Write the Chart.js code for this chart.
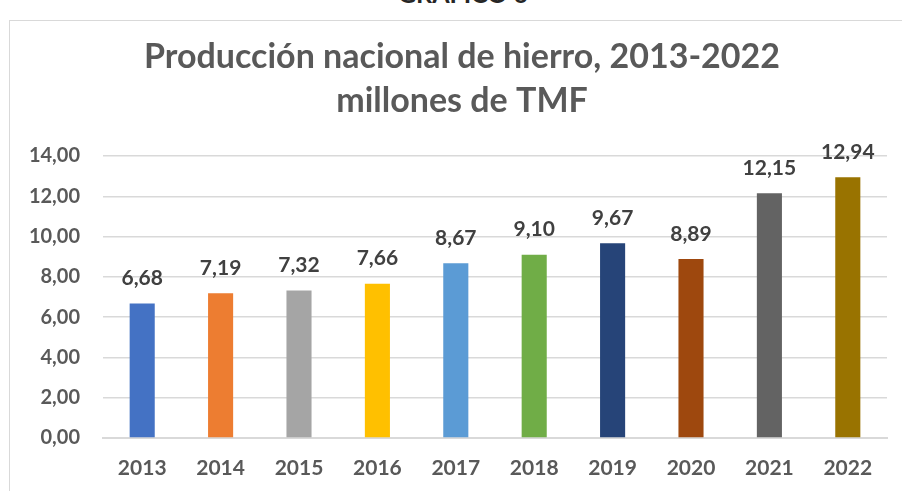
<!DOCTYPE html>
<html><head><meta charset="utf-8">
<script src="https://cdn.jsdelivr.net/npm/chart.js@4/dist/chart.umd.min.js"></script>
<style>
html,body{margin:0;padding:0;background:#fff;overflow:hidden;}
#wrap{position:relative;width:902px;height:491px;}
#frame{position:absolute;left:9px;top:20px;width:900px;height:480px;border:1.5px solid #d9d9d9;box-sizing:border-box;}
#sup{position:absolute;left:12px;width:902px;top:-19px;text-align:center;font:bold 25px Lato,"Liberation Sans",sans-serif;color:#262626;line-height:25px;}
canvas{position:absolute;left:0;top:0;}
</style></head><body>
<div id="wrap">
<div id="sup">GRÁFICO 6</div>
<div id="frame"></div>
<canvas id="c" width="902" height="491"></canvas>
</div>
<script>
const years = ["2013","2014","2015","2016","2017","2018","2019","2020","2021","2022"];
const production = [6.68, 7.19, 7.32, 7.66, 8.67, 9.10, 9.67, 8.89, 12.15, 12.94];
const barColors = ["#4472C4","#ED7D31","#A5A5A5","#FFC000","#5B9BD5","#70AD47","#264478","#9E480E","#636363","#997300"];
const titleLines = ["Producción nacional de hierro, 2013-2022","millones de TMF"];

const fmt = v => v.toFixed(2).replace('.', ',');
const FONT = 'Lato, "Liberation Sans", sans-serif';

const labelPlugin = {
  id: 'valueLabels',
  afterDatasetsDraw(chart) {
    const ctx = chart.ctx;
    const meta = chart.getDatasetMeta(0);
    ctx.save();
    ctx.font = 'bold 21px ' + FONT;
    ctx.fillStyle = '#404040';
    ctx.textAlign = 'center';
    ctx.textBaseline = 'middle';
    meta.data.forEach((bar, i) => {
      ctx.fillText(fmt(production[i]), bar.x, bar.y - 25);
    });
    ctx.restore();
  }
};

const titlePlugin = {
  id: 'twoLineTitle',
  afterDraw(chart) {
    const ctx = chart.ctx;
    ctx.save();
    ctx.font = 'bold 34px ' + FONT;
    ctx.fillStyle = '#595959';
    ctx.textAlign = 'center';
    ctx.textBaseline = 'middle';
    ctx.fillText(titleLines[0], 462, 57);
    ctx.fillText(titleLines[1], 462, 101);
    ctx.restore();
  }
};

new Chart(document.getElementById('c'), {
  type: 'bar',
  data: {
    labels: years,
    datasets: [{ data: production, backgroundColor: barColors, borderWidth: 0,
      barPercentage: 0.32, categoryPercentage: 1.0 }]
  },
  options: {
    responsive: false,
    animation: false,
    devicePixelRatio: 1,
    layout: { padding: { left: 0, right: 15, top: 156, bottom: 0 } },
    plugins: {
      legend: { display: false },
      tooltip: { enabled: false },
      title: { display: false }
    },
    scales: {
      x: {
        grid: { display: false, drawTicks: false },
        border: { display: true, color: '#d9d9d9', width: 2 },
        ticks: { color: '#595959', font: { family: FONT, size: 21, weight: 'bold' }, padding: 18 },
        afterFit(s) { s.height = 53; }
      },
      y: {
        min: 0, max: 14,
        ticks: { stepSize: 2, color: '#595959', font: { family: FONT, size: 20, weight: 'bold' }, padding: 23,
          callback: v => fmt(v) },
        grid: { color: '#d9d9d9', lineWidth: 1.5, drawTicks: false },
        border: { display: false },
        afterFit(s) { s.width = 103; }
      }
    }
  },
  plugins: [labelPlugin, titlePlugin]
});
</script>
</body></html>
